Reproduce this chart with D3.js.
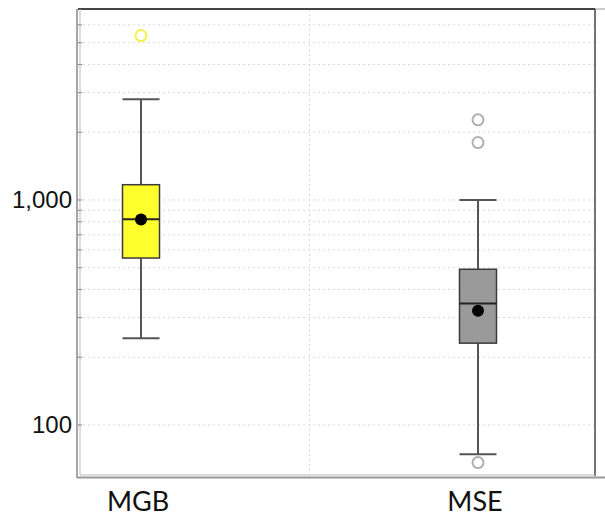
<!DOCTYPE html>
<html>
<head>
<meta charset="utf-8">
<script src="https://cdn.jsdelivr.net/npm/d3@7"></script>
<style>
  body { margin: 0; background: #fff; }
</style>
</head>
<body>
<script>
// box plot summary per group
var groups = ["MGB", "MSE"]
var whiskerLow = [243, 74]
var q1 = [552, 231]
var median = [821, 347]
var q3 = [1169, 492]
var whiskerHigh = [2800, 1000]
var means = [818, 322]
var outliers = [[5380], [2270, 1800, 68]]
var fills = ["#ffff2e", "#9a9a9a"]
var outlierColors = ["#f2f24a", "#b0b0b0"]
var yTicks = [100, 1000]
var gridValues = [200, 300, 400, 500, 600, 700, 800, 900, 1000, 2000, 3000, 4000, 5000, 6000, 100]

var width = 605, height = 518
var plotLeft = 78, plotRight = 595, plotTop = 9, plotBottom = 476

var svg = d3.select("body").append("svg")
  .attr("width", width)
  .attr("height", height)

var y = d3.scaleLog().domain([59.3, 7060]).range([plotBottom, plotTop])
var x = d3.scalePoint().domain(groups).range([141, 478])
var boxW = 37

// grid
svg.append("g").selectAll("line")
  .data(gridValues)
  .enter().append("line")
  .attr("x1", plotLeft).attr("x2", plotRight)
  .attr("y1", function(d) { return y(d) }).attr("y2", function(d) { return y(d) })
  .attr("stroke", "#d8d8d8")
  .attr("stroke-dasharray", "2,3")
var midX = (x("MGB") + x("MSE")) / 2
svg.append("line")
  .attr("x1", midX).attr("x2", midX)
  .attr("y1", plotTop).attr("y2", plotBottom)
  .attr("stroke", "#d8d8d8")
  .attr("stroke-dasharray", "2,3")

// small ticks on the left axis
svg.append("g").selectAll("line")
  .data(gridValues)
  .enter().append("line")
  .attr("x1", plotLeft).attr("x2", plotLeft + 4)
  .attr("y1", function(d) { return y(d) }).attr("y2", function(d) { return y(d) })
  .attr("stroke", "#777")

// frame
svg.append("line").attr("x1", plotLeft).attr("x2", 605).attr("y1", plotTop).attr("y2", plotTop)
  .attr("stroke", "#ccc").attr("stroke-width", 2)
svg.append("line").attr("x1", plotLeft).attr("x2", plotRight).attr("y1", plotTop).attr("y2", plotTop)
  .attr("stroke", "#444").attr("stroke-width", 2)
svg.append("line").attr("x1", plotRight).attr("x2", plotRight).attr("y1", plotTop).attr("y2", plotBottom)
  .attr("stroke", "#444").attr("stroke-width", 1.5)
svg.append("line").attr("x1", plotLeft - 1).attr("x2", plotLeft - 1).attr("y1", plotTop).attr("y2", plotBottom + 2)
  .attr("stroke", "#888").attr("stroke-width", 1.5)
svg.append("line").attr("x1", plotLeft + 2).attr("x2", plotLeft + 2).attr("y1", plotTop).attr("y2", plotBottom - 1)
  .attr("stroke", "#bbb").attr("stroke-width", 1)
svg.append("line").attr("x1", plotLeft - 1).attr("x2", 605).attr("y1", plotBottom + 1.5).attr("y2", plotBottom + 1.5)
  .attr("stroke", "#999").attr("stroke-width", 2)
svg.append("line").attr("x1", plotLeft + 2).attr("x2", plotRight).attr("y1", plotBottom - 1).attr("y2", plotBottom - 1)
  .attr("stroke", "#bbb").attr("stroke-width", 1)

// boxes
var g = svg.append("g").selectAll("g")
  .data(groups)
  .enter().append("g")

g.append("line")
  .attr("x1", function(d) { return x(d) }).attr("x2", function(d) { return x(d) })
  .attr("y1", function(d, i) { return y(whiskerLow[i]) })
  .attr("y2", function(d, i) { return y(whiskerHigh[i]) })
  .attr("stroke", "#555").attr("stroke-width", 2)
g.append("line")
  .attr("x1", function(d) { return x(d) - boxW / 2 }).attr("x2", function(d) { return x(d) + boxW / 2 })
  .attr("y1", function(d, i) { return y(whiskerLow[i]) })
  .attr("y2", function(d, i) { return y(whiskerLow[i]) })
  .attr("stroke", "#555").attr("stroke-width", 2)
g.append("line")
  .attr("x1", function(d) { return x(d) - boxW / 2 }).attr("x2", function(d) { return x(d) + boxW / 2 })
  .attr("y1", function(d, i) { return y(whiskerHigh[i]) })
  .attr("y2", function(d, i) { return y(whiskerHigh[i]) })
  .attr("stroke", "#555").attr("stroke-width", 2)
g.append("rect")
  .attr("x", function(d) { return x(d) - boxW / 2 })
  .attr("y", function(d, i) { return y(q3[i]) })
  .attr("width", boxW)
  .attr("height", function(d, i) { return y(q1[i]) - y(q3[i]) })
  .attr("fill", function(d, i) { return fills[i] })
  .attr("stroke", "#3a3a3a").attr("stroke-width", 1.5)
g.append("line")
  .attr("x1", function(d) { return x(d) - boxW / 2 }).attr("x2", function(d) { return x(d) + boxW / 2 })
  .attr("y1", function(d, i) { return y(median[i]) })
  .attr("y2", function(d, i) { return y(median[i]) })
  .attr("stroke", "#222").attr("stroke-width", 2)
g.append("circle")
  .attr("cx", function(d) { return x(d) })
  .attr("cy", function(d, i) { return y(means[i]) })
  .attr("r", 6)
  .attr("fill", "#000")
g.each(function(d, i) {
  d3.select(this).selectAll("circle.out")
    .data(outliers[i])
    .enter().append("circle")
    .attr("class", "out")
    .attr("cx", x(d))
    .attr("cy", function(v) { return y(v) })
    .attr("r", 5.5)
    .attr("fill", "none")
    .attr("stroke", outlierColors[i])
    .attr("stroke-width", 2)
})

// labels
svg.append("g").selectAll("text")
  .data(yTicks)
  .enter().append("text")
  .attr("x", 72)
  .attr("y", function(d) { return y(d) + 8 })
  .attr("text-anchor", "end")
  .style("font-family", "'Liberation Sans', Arial, Helvetica, sans-serif")
  .style("font-size", "24px")
  .attr("fill", "#111")
  .text(d3.format(","))

svg.append("g").selectAll("text")
  .data(groups)
  .enter().append("text")
  .attr("x", function(d) { return x(d) - 3 })
  .attr("y", 511)
  .attr("text-anchor", "middle")
  .style("font-family", "Lato, sans-serif")
  .style("font-size", "27px")
  .attr("fill", "#111")
  .text(function(d) { return d })
</script>
</body>
</html>
